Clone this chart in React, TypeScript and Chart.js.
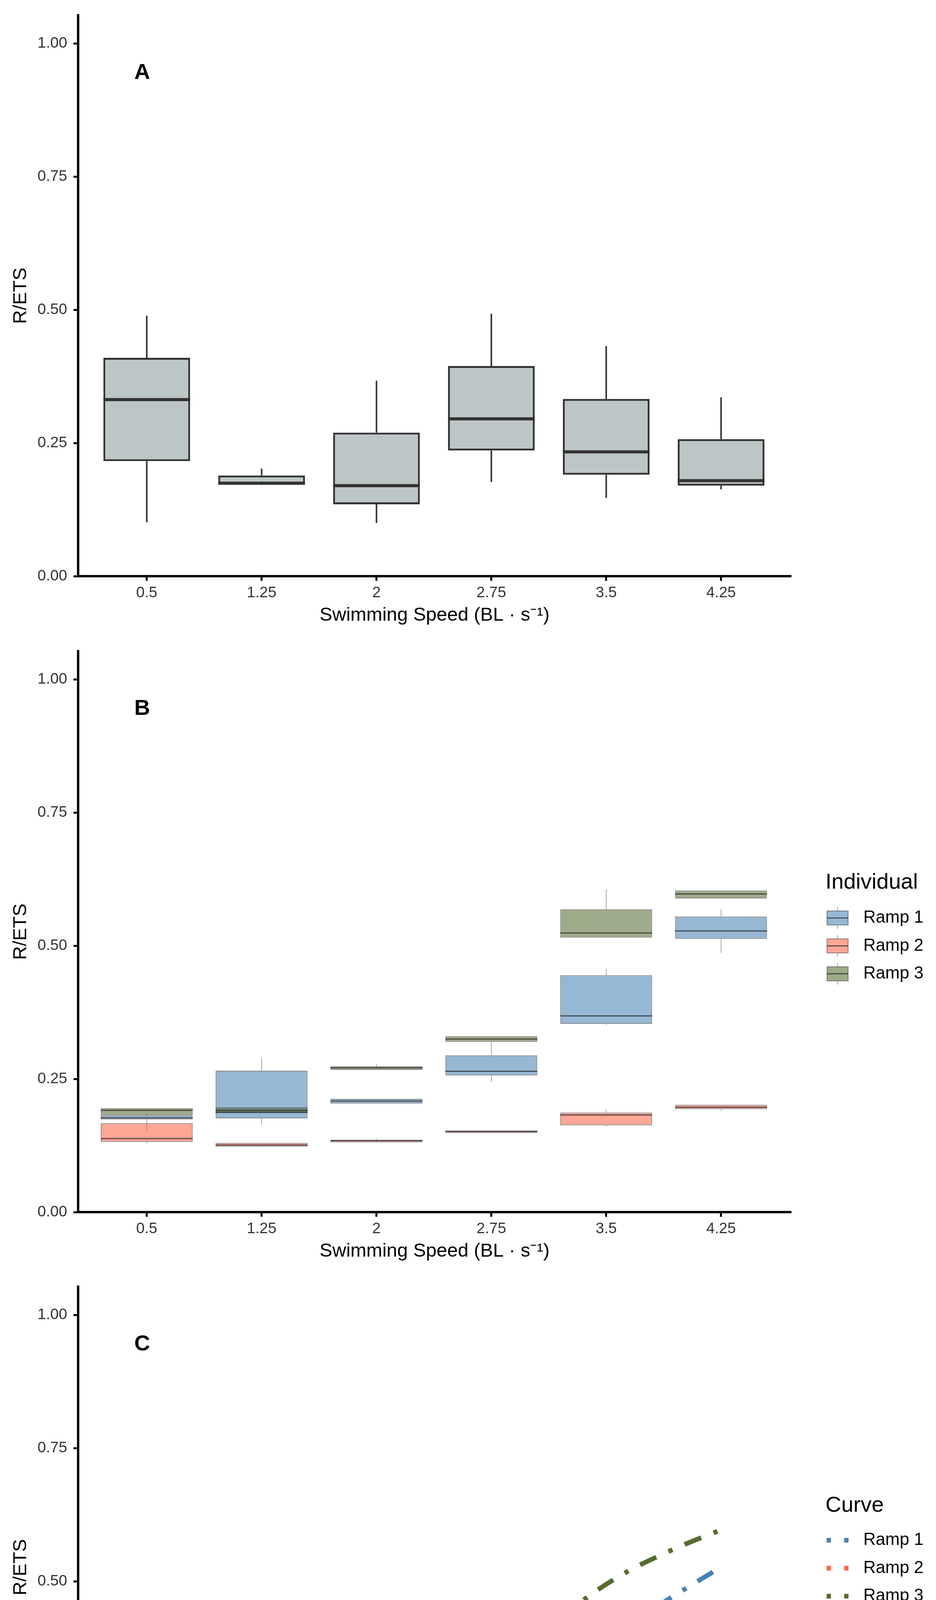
import { useEffect, useRef } from "react";
import { Chart, registerables } from "chart.js";
import type { ChartConfiguration, Plugin } from "chart.js";

Chart.register(...registerables);

const FONT = '"Liberation Sans", Arial, Helvetica, sans-serif';
const W = 2396;
const H = 1620;

// x categories (swimming speed, BL/s) and y ticks
const SPEEDS = [0.5, 1.25, 2, 2.75, 3.5, 4.25];
const BOX_TICK_LABELS = ["0.5", "1.25", "2", "2.75", "3.5", "4.25"];
const CURVE_TICK_LABELS = ["0.50", "1.25", "2.00", "2.75", "3.50", "4.25"];
const Y_TICKS = [0, 0.25, 0.5, 0.75, 1];

// panel A: all individuals pooled
const ALL_LOW = [0.101, 0.171, 0.1, 0.177, 0.147, 0.163];
const ALL_Q1 = [0.216, 0.1715, 0.135, 0.236, 0.1905, 0.17];
const ALL_MED = [0.3315, 0.1745, 0.17, 0.2954, 0.2335, 0.1794];
const ALL_Q3 = [0.41, 0.189, 0.2696, 0.3947, 0.3328, 0.2572];
const ALL_HIGH = [0.489, 0.202, 0.367, 0.4928, 0.432, 0.3358];

// panel B: per individual
const RAMP1_LOW = [0.15, 0.165, 0.2037, 0.2446, 0.351, 0.487];
const RAMP1_Q1 = [0.174, 0.176, 0.2037, 0.2566, 0.3536, 0.513];
const RAMP1_MED = [0.177, 0.1875, 0.2085, 0.2644, 0.3684, 0.528];
const RAMP1_Q3 = [0.1815, 0.2656, 0.2127, 0.2945, 0.4448, 0.555];
const RAMP1_HIGH = [0.186, 0.289, 0.2127, 0.2945, 0.4574, 0.569];

const RAMP2_LOW = [0.129, 0.122, 0.131, 0.149, 0.16, 0.19];
const RAMP2_Q1 = [0.1316, 0.123, 0.131, 0.149, 0.163, 0.1935];
const RAMP2_MED = [0.138, 0.126, 0.134, 0.151, 0.1824, 0.197];
const RAMP2_Q3 = [0.167, 0.13, 0.1358, 0.1535, 0.1868, 0.2016];
const RAMP2_HIGH = [0.167, 0.13, 0.138, 0.1535, 0.192, 0.2016];

const RAMP3_LOW = [0.1815, 0.186, 0.267, 0.295, 0.5152, 0.589];
const RAMP3_Q1 = [0.1815, 0.186, 0.267, 0.3197, 0.5152, 0.589];
const RAMP3_MED = [0.191, 0.191, 0.271, 0.325, 0.524, 0.5975];
const RAMP3_Q3 = [0.1953, 0.1965, 0.274, 0.3305, 0.5686, 0.604];
const RAMP3_HIGH = [0.1953, 0.1965, 0.2776, 0.3305, 0.6056, 0.604];

// panel C: fitted curves
const CURVE_X = [0.5, 0.875, 1.25, 1.625, 2, 2.375, 2.75, 3.125, 3.5, 3.875, 4.25];
const RAMP1_FIT = [0.199, 0.202, 0.207, 0.212, 0.223, 0.243, 0.273, 0.327, 0.398, 0.465, 0.527];
const RAMP2_FIT = [0.142, 0.142, 0.142, 0.143, 0.144, 0.1465, 0.153, 0.165, 0.179, 0.192, 0.201];
const RAMP3_FIT = [0.199, 0.202, 0.209, 0.221, 0.247, 0.287, 0.345, 0.43, 0.503, 0.555, 0.597];
const T2_FIT = [0.172, 0.174, 0.177, 0.182, 0.194, 0.213, 0.237, 0.274, 0.323, 0.388, 0.451];

const RAMP_NAMES = ["Ramp 1", "Ramp 2", "Ramp 3"];
const RAMP_RGB = ["70,130,180", "255,99,71", "85,107,47"];
const T2_COLOR = "#9932cc";
const DOTDASH = [11, 34, 46, 34];

type BoxSet = { low: number[]; q1: number[]; med: number[]; q3: number[]; high: number[] };

const ALL_SET: BoxSet = { low: ALL_LOW, q1: ALL_Q1, med: ALL_MED, q3: ALL_Q3, high: ALL_HIGH };
const RAMP_SETS: BoxSet[] = [
  { low: RAMP1_LOW, q1: RAMP1_Q1, med: RAMP1_MED, q3: RAMP1_Q3, high: RAMP1_HIGH },
  { low: RAMP2_LOW, q1: RAMP2_Q1, med: RAMP2_MED, q3: RAMP2_Q3, high: RAMP2_HIGH },
  { low: RAMP3_LOW, q1: RAMP3_Q1, med: RAMP3_MED, q3: RAMP3_Q3, high: RAMP3_HIGH },
];

const yAxis = () => ({
  type: "linear" as const,
  min: 0,
  max: 1.053,
  afterBuildTicks: (s: any) => {
    s.ticks = Y_TICKS.map((value) => ({ value }));
  },
  afterFit: (s: any) => {
    s.width = 200;
  },
  ticks: {
    callback: (v: any) => Number(v).toFixed(2),
    color: "#333",
    padding: 16,
    font: { family: FONT, size: 39 },
  },
  grid: { display: true, drawOnChartArea: false, drawTicks: true, tickLength: 12, tickWidth: 5, tickColor: "#000" },
  border: { display: true, color: "#000", width: 6 },
});

const xAxis = (min: number, max: number, labels: string[]) => ({
  type: "linear" as const,
  min,
  max,
  offset: false,
  afterBuildTicks: (s: any) => {
    s.ticks = SPEEDS.map((value) => ({ value }));
  },
  afterFit: (s: any) => {
    s.height = H - 1475;
  },
  ticks: {
    autoSkip: false,
    maxRotation: 0,
    callback: (_v: any, i: number) => labels[i],
    color: "#333",
    padding: 8,
    font: { family: FONT, size: 39 },
  },
  grid: { display: true, offset: false, drawOnChartArea: false, drawTicks: true, tickLength: 12, tickWidth: 5, tickColor: "#000" },
  border: { display: true, color: "#000", width: 6 },
});

const LAYOUT = { padding: { left: 0, right: W - 2025, top: 25, bottom: 0 } };

const line = (ctx: CanvasRenderingContext2D, x1: number, y1: number, x2: number, y2: number) => {
  ctx.beginPath();
  ctx.moveTo(x1, y1);
  ctx.lineTo(x2, y2);
  ctx.stroke();
};

// whiskers under the boxes, medians over them
const boxParts = (sets: BoxSet[], whiskerColor: string, whiskerWidth: number, medColor: string, medWidth: number): Plugin => ({
  id: "boxParts",
  beforeDatasetsDraw(chart: any) {
    const { ctx, scales } = chart;
    ctx.save();
    ctx.strokeStyle = whiskerColor;
    ctx.lineWidth = whiskerWidth;
    sets.forEach((set) => {
      SPEEDS.forEach((s, i) => {
        const px = scales.x.getPixelForValue(s);
        if (set.high[i] > set.q3[i]) line(ctx, px, scales.y.getPixelForValue(set.high[i]), px, scales.y.getPixelForValue(set.q3[i]));
        if (set.low[i] < set.q1[i]) line(ctx, px, scales.y.getPixelForValue(set.q1[i]), px, scales.y.getPixelForValue(set.low[i]));
      });
    });
    ctx.restore();
  },
  afterDatasetsDraw(chart: any) {
    const { ctx, scales } = chart;
    ctx.save();
    ctx.strokeStyle = medColor;
    ctx.lineWidth = medWidth;
    sets.forEach((set, d) => {
      chart.getDatasetMeta(d).data.forEach((bar: any, i: number) => {
        const py = scales.y.getPixelForValue(set.med[i]);
        line(ctx, bar.x - bar.width / 2, py, bar.x + bar.width / 2, py);
      });
    });
    ctx.restore();
  },
});

const decor = (letter: string, xTitle: string, legend?: (ctx: CanvasRenderingContext2D) => void): Plugin => ({
  id: "decor",
  afterDraw(chart: any) {
    const { ctx, chartArea } = chart;
    ctx.save();
    ctx.fillStyle = "#000";
    ctx.textBaseline = "middle";
    ctx.textAlign = "center";
    ctx.font = `49px ${FONT}`;
    ctx.fillText(xTitle, (chartArea.left + chartArea.right) / 2, 1575);
    ctx.save();
    ctx.translate(53, (chartArea.top + chartArea.bottom) / 2);
    ctx.rotate(-Math.PI / 2);
    ctx.fillText("R/ETS", 0, 0);
    ctx.restore();
    ctx.font = `bold 56px ${FONT}`;
    ctx.fillText(letter, 364, 187);
    if (legend) legend(ctx);
    ctx.restore();
  },
});

const boxLegend = (ctx: CanvasRenderingContext2D) => {
  ctx.textAlign = "left";
  ctx.fillStyle = "#000";
  ctx.font = `56px ${FONT}`;
  ctx.fillText("Individual", 2113, 632);
  RAMP_NAMES.forEach((name, i) => {
    const cy = 722 + i * 71.5;
    ctx.strokeStyle = "rgba(60,60,60,0.6)";
    ctx.lineWidth = 1.5;
    line(ctx, 2144, cy - 28, 2144, cy + 28);
    ctx.fillStyle = "#fff";
    ctx.fillRect(2117, cy - 18, 54, 36);
    ctx.fillStyle = `rgba(${RAMP_RGB[i]},0.57)`;
    ctx.fillRect(2117, cy - 18, 54, 36);
    ctx.lineWidth = 2;
    ctx.strokeRect(2117, cy - 18, 54, 36);
    ctx.strokeStyle = "rgba(40,40,40,0.7)";
    ctx.lineWidth = 3;
    line(ctx, 2117, cy, 2171, cy);
    ctx.fillStyle = "#000";
    ctx.font = `44px ${FONT}`;
    ctx.fillText(name, 2210, cy);
  });
};

const curveLegend = (ctx: CanvasRenderingContext2D) => {
  ctx.textAlign = "left";
  ctx.fillStyle = "#000";
  ctx.font = `56px ${FONT}`;
  ctx.fillText("Curve", 2113, 600);
  const names = [...RAMP_NAMES, "T2"];
  names.forEach((name, i) => {
    const cy = 688 + i * 71.6;
    ctx.lineCap = "butt";
    if (i < 3) {
      ctx.strokeStyle = `rgb(${RAMP_RGB[i]})`;
      ctx.lineWidth = 12;
      ctx.setLineDash(DOTDASH);
    } else {
      ctx.strokeStyle = T2_COLOR;
      ctx.lineWidth = 11;
      ctx.setLineDash([]);
    }
    line(ctx, 2116, cy, 2172, cy);
    ctx.setLineDash([]);
    ctx.fillStyle = "#000";
    ctx.font = `44px ${FONT}`;
    ctx.fillText(name, 2210, cy);
  });
};

const baseOptions = {
  responsive: false,
  animation: false as const,
  devicePixelRatio: 1,
  layout: LAYOUT,
  plugins: { legend: { display: false }, tooltip: { enabled: false } },
};

const pooledConfig = (): ChartConfiguration<"bar", any[], number> => ({
  type: "bar",
  data: {
    datasets: [
      {
        data: SPEEDS.map((x, i) => ({ x, y: [ALL_Q1[i], ALL_Q3[i]] })),
        backgroundColor: "#bdc6c6",
        borderColor: "#333333",
        borderWidth: 5,
        borderSkipped: false,
        barPercentage: 0.755,
        categoryPercentage: 1,
      },
    ],
  },
  options: {
    ...baseOptions,
    scales: { x: xAxis(0.052, 4.707, BOX_TICK_LABELS), y: yAxis() } as any,
  },
  plugins: [boxParts([ALL_SET], "#333333", 4, "#333333", 8), decor("A", "Swimming Speed (BL \u00b7 s\u207b\u00b9)")],
});

const rampConfig = (): ChartConfiguration<"bar", any[], number> => ({
  type: "bar",
  data: {
    datasets: RAMP_SETS.map((set, d) => ({
      label: RAMP_NAMES[d],
      data: SPEEDS.map((x, i) => ({ x, y: [set.q1[i], set.q3[i]] })),
      backgroundColor: `rgba(${RAMP_RGB[d]},0.57)`,
      borderColor: "rgba(60,60,60,0.6)",
      borderWidth: 2,
      borderSkipped: false,
      barPercentage: 0.8,
      categoryPercentage: 1,
      grouped: false,
      order: 3 - d,
    })),
  },
  options: {
    ...baseOptions,
    scales: { x: xAxis(0.052, 4.707, BOX_TICK_LABELS), y: yAxis() } as any,
  },
  plugins: [
    boxParts(RAMP_SETS, "rgba(60,60,60,0.6)", 1.5, "rgba(40,40,40,0.75)", 3),
    decor("B", "Swimming Speed (BL \u00b7 s\u207b\u00b9)", boxLegend),
  ],
});

const curveConfig = (): ChartConfiguration<"line", any[], number> => {
  const fits = [RAMP1_FIT, RAMP2_FIT, RAMP3_FIT];
  const ramps = fits.map((fit, d) => ({
    label: RAMP_NAMES[d],
    data: CURVE_X.map((x, i) => ({ x, y: fit[i] })),
    borderColor: `rgb(${RAMP_RGB[d]})`,
    borderWidth: 12,
    borderDash: DOTDASH,
    borderCapStyle: "butt" as const,
    pointRadius: 0,
    fill: false,
    tension: 0.4,
    order: 4 - d,
  }));
  return {
    type: "line",
    data: {
      datasets: [
        ...ramps,
        {
          label: "T2",
          data: CURVE_X.map((x, i) => ({ x, y: T2_FIT[i] })),
          borderColor: T2_COLOR,
          borderWidth: 11,
          pointRadius: 0,
          fill: false,
          tension: 0.4,
          order: 1,
        },
      ],
    },
    options: {
      ...baseOptions,
      scales: { x: xAxis(-0.223, 4.736, CURVE_TICK_LABELS), y: yAxis() } as any,
    },
    plugins: [decor("C", "Swimming speed (BL\u00b7s\u207b\u00b9)", curveLegend)],
  };
};

const Panel = ({ build, gap }: { build: () => ChartConfiguration<any, any[], any>; gap: number }) => {
  const canvasRef = useRef<HTMLCanvasElement | null>(null);

  useEffect(() => {
    const ctx = canvasRef.current?.getContext("2d");
    if (!ctx) return;
    const chart = new Chart(ctx, build());
    return () => {
      chart.destroy();
    };
  }, []);

  return (
    <canvas
      ref={canvasRef}
      width={W}
      height={H}
      style={{ display: "block", width: W, height: H, marginBottom: gap }}
    />
  );
};

const App = () => (
  <div style={{ margin: -8, width: W, height: 4875, background: "#fff", overflow: "hidden" }}>
    <Panel build={pooledConfig} gap={8} />
    <Panel build={rampConfig} gap={7} />
    <Panel build={curveConfig} gap={0} />
  </div>
);

export default App;
